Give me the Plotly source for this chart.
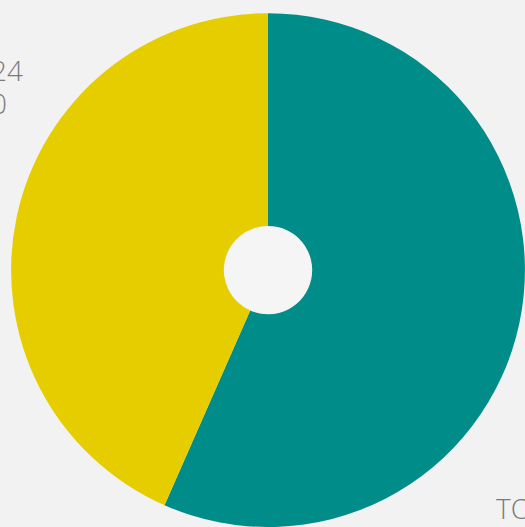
import plotly.graph_objects as go

# Data
labels = ["TOTAL", "2024"]
values = [56.6, 43.4]
colors = ["#008c88", "#e6cd00"]
left_label_lines = ["2024", "100"]

fig = go.Figure()
fig.add_trace(go.Pie(
    labels=labels,
    values=values,
    hole=0.172,
    sort=False,
    direction="clockwise",
    rotation=0,
    textinfo="none",
    hoverinfo="label+value",
    marker=dict(colors=colors, line=dict(width=0)),
    domain=dict(x=[0.021, 1.0], y=[0.0, 0.975]),
    showlegend=False,
))

W, H = 525, 527
font = dict(family="Open Sans", size=28, color="#7a7a7a", weight=300)

# hole interior
cx, cy, r = 268, 270, 43
fig.add_shape(type="circle", xref="paper", yref="paper",
              x0=(cx - r) / W, x1=(cx + r) / W,
              y0=1 - (cy + r) / H, y1=1 - (cy - r) / H,
              fillcolor="#f5f5f5", line=dict(width=0), layer="above")

fig.add_annotation(text=left_label_lines[0], xref="paper", yref="paper",
                   x=25 / W, y=1 - 70 / H, xanchor="right", yanchor="middle",
                   showarrow=False, font=font)
fig.add_annotation(text=left_label_lines[1], xref="paper", yref="paper",
                   x=9 / W, y=1 - 103 / H, xanchor="right", yanchor="middle",
                   showarrow=False, font=font)
fig.add_annotation(text=labels[0], xref="paper", yref="paper",
                   x=494 / W, y=1 - 508 / H, xanchor="left", yanchor="middle",
                   showarrow=False, font=font)

fig.update_layout(
    width=W, height=H,
    margin=dict(l=0, r=0, t=0, b=0),
    paper_bgcolor="#f2f2f2",
    plot_bgcolor="#f2f2f2",
)

fig.write_html("out.html")
